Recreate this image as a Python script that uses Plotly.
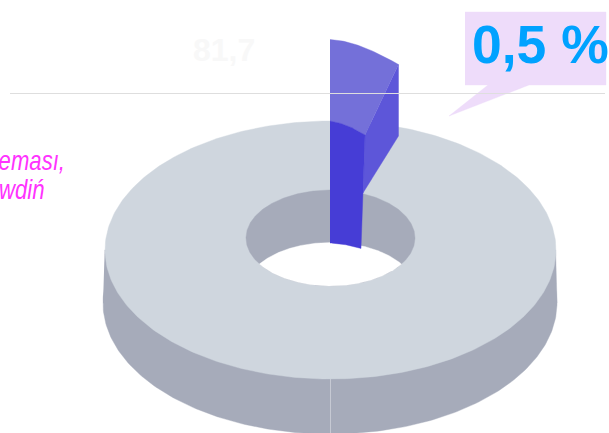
import numpy as np
import plotly.graph_objects as go

# Data
categories = ["Pozostałe", "Wysunięty wycinek"]
drawn_share = [95, 5]          # angular share of the ring as drawn
callout_text = "0,5 %"
faint_text = "81,7"
pink_lines = ["eması,", "wdiń"]

COL_TOP = "#cfd6de"
COL_SIDE = "#a6abba"
COL_W_TOP = "#7470d9"
COL_W_SIDE = "#5d56d9"
COL_W_IN = "#463dd6"
COL_CALLOUT = "#eedcfa"
COL_RULE = "#dedede"
COL_PINK = "#ff33ff"

W, H = 609, 433
T = np.linspace(0, 2 * np.pi, 361)


def ellipse(cx, cy, rx, ry, t=T):
    return cx + rx * np.sin(t), cy - ry * np.cos(t)


def arc(*pts, n=40):
    """Smooth curve through points of the projected wedge."""
    xs = [p[0] for p in pts]
    ys = [p[1] for p in pts]
    c = np.polyfit(xs, ys, len(pts) - 1)
    x = np.linspace(xs[0], xs[-1], n)
    return x, np.polyval(c, x)


fig = go.Figure()


def poly(x, y, color):
    fig.add_trace(go.Scatter(x=list(x), y=list(y), mode="lines", fill="toself",
                             fillcolor=color, line=dict(width=0.4, color=color),
                             hoverinfo="skip", showlegend=False))


# ring side (extrusion)
bx, by = ellipse(330, 303, 227, 131)
poly(bx, by, COL_SIDE)
poly([104.7, 555.6, 557, 103], [250, 250, 303, 303], COL_SIDE)
# seam on the side
fig.add_trace(go.Scatter(x=[330.5, 330.5], y=[379, 433], mode="lines",
                         line=dict(color="#c6c9d3", width=1),
                         hoverinfo="skip", showlegend=False))
# ring top
tx, ty = ellipse(330.5, 250, 225.5, 129)
poly(tx, ty, COL_TOP)
# hole
ix, iy = ellipse(330.5, 238, 84.5, 48)
poly(ix, iy, COL_SIDE)
xs = np.linspace(330.5 - 84.4, 330.5 + 84.4, 500)
lower = 238 + 48 * np.sqrt(1 - ((xs - 330.5) / 84.5) ** 2)
upper = 291 - 48.5 * np.sqrt(np.clip(1 - ((xs - 330.5) / 85.5) ** 2, 0, 1))
m = lower > upper
poly(np.r_[xs[m], xs[m][::-1]], np.r_[upper[m], lower[m][::-1]], "#ffffff")

# wedge
ax1, ay1 = arc((330, 39.5), (346, 41.8), (362, 46.7), (398.5, 64.5))  # raised outer arc
ax2, ay2 = arc((330, 121), (348, 126), (365, 135))                    # raised inner arc
ax3, ay3 = arc((330, 243), (346, 244.8), (361, 248.5))                # lower inner arc
poly(np.r_[ax1, ax2[::-1]], np.r_[ay1, ay2[::-1]], COL_W_TOP)
poly([398.5, 398.5, 363, 365], [64.5, 136, 193, 135], COL_W_SIDE)
poly(np.r_[ax2, ax3[::-1]], np.r_[ay2, ay3[::-1]], COL_W_IN)

# callout
poly([465, 606, 606, 529, 449, 488, 465], [12, 12, 85, 85, 116, 85, 85], COL_CALLOUT)
# rule
fig.add_trace(go.Scatter(x=[10, 605], y=[93.5, 93.5], mode="lines",
                         line=dict(color=COL_RULE, width=1),
                         hoverinfo="skip", showlegend=False))

annos = [
    dict(x=224, y=50, text=faint_text, font=dict(family="Liberation Sans", size=32, color="#f8f8f8")),
    dict(x=540, y=44, text=callout_text, font=dict(family="Liberation Sans", size=53.5, color="#00a2ff")),
]
for a in annos:
    a["text"] = "<b>" + a["text"] + "</b>"
    fig.add_annotation(showarrow=False, xanchor="center", yanchor="middle", **a)
for txt, ypos, xpos in zip(pink_lines, [161, 190], [67, 47]):
    fig.add_annotation(x=xpos, y=ypos, text="<i>" + txt + "</i>", showarrow=False,
                       xanchor="right", yanchor="middle",
                       font=dict(family="Liberation Sans", size=27, color=COL_PINK))

fig.update_layout(width=W, height=H, margin=dict(l=0, r=0, t=0, b=0),
                  paper_bgcolor="#ffffff", plot_bgcolor="#ffffff", showlegend=False,
                  xaxis=dict(range=[0, W], visible=False, fixedrange=True),
                  yaxis=dict(range=[H, 0], visible=False, fixedrange=True))

# the pink lines are set in a narrow italic in the reference: condense them horizontally
post = """
document.body.style.margin='0';
document.querySelectorAll('.annotation-text').forEach(function(el){
  if ((el.style.fill || '').indexOf('255, 51, 255') >= 0) {
    el.style.transformBox = 'fill-box';
    el.style.transformOrigin = 'right center';
    el.style.transform = 'scaleX(0.82)';
  }
});
"""
fig.write_html("out.html", config=dict(displayModeBar=False), post_script=post)
